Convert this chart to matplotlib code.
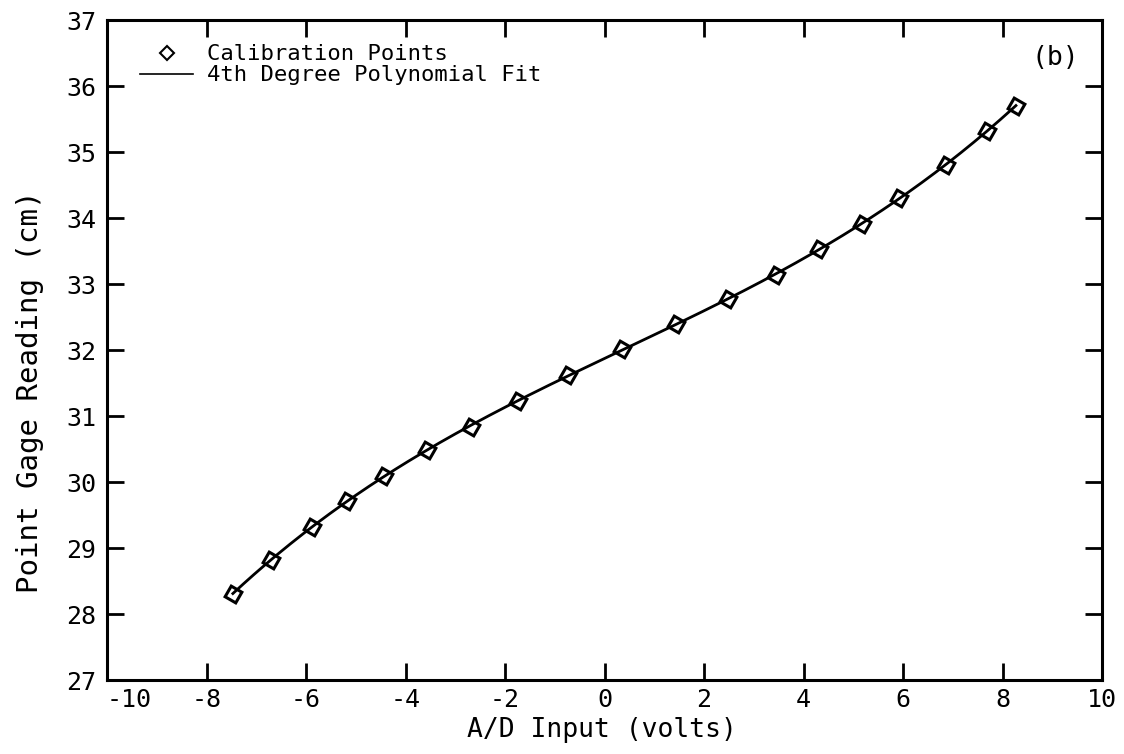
import numpy as np
import matplotlib
matplotlib.use("Agg")
import matplotlib.pyplot as plt

# Calibration data
ad_volts = [-7.47, -6.70, -5.88, -5.18, -4.43, -3.57, -2.69, -1.73, -0.74, 0.36,
            1.44, 2.48, 3.44, 4.32, 5.17, 5.92, 6.86, 7.69, 8.27]
gage_cm = [28.31, 28.82, 29.32, 29.71, 30.09, 30.48, 30.84, 31.23, 31.62, 32.01,
           32.39, 32.77, 33.14, 33.53, 33.91, 34.30, 34.81, 35.32, 35.70]

x_ticks = [-10, -8, -6, -4, -2, 0, 2, 4, 6, 8, 10]
y_ticks = [27, 28, 29, 30, 31, 32, 33, 34, 35, 36, 37]

plt.rcParams['font.family'] = ['DejaVu Sans Mono', 'DejaVu Sans']
plt.rcParams['axes.unicode_minus'] = False

fig = plt.figure(figsize=(11.24, 7.54), dpi=100)
ax = fig.add_axes([107/1124, 1 - 680/754, 995/1124, 660/754])

# 4th degree polynomial fit of the calibration points
coef = np.polyfit(ad_volts, gage_cm, 4)
xf = np.linspace(min(ad_volts), max(ad_volts), 300)
yf = np.polyval(coef, xf)

ax.plot(xf, yf, color='black', lw=2.0, zorder=2)
ax.plot(ad_volts, gage_cm, linestyle='none', marker=(4, 0, 15), markersize=12.5,
        markerfacecolor='none', markeredgecolor='black', markeredgewidth=2.2,
        zorder=3)
# legend proxies
h_pts, = ax.plot([], [], linestyle='none', marker='D', markersize=7.5,
                 markerfacecolor='none', markeredgecolor='black',
                 markeredgewidth=1.5, label='Calibration Points')
h_line, = ax.plot([], [], color='black', lw=1.2, label='4th Degree Polynomial Fit')

ax.set_xlim(-10, 10)
ax.set_ylim(27, 37)
ax.set_xticks(x_ticks)
ax.set_yticks(y_ticks)
ax.set_xticklabels([str(v) for v in x_ticks])
ax.set_yticklabels([str(v) for v in y_ticks])

ax.tick_params(axis='both', which='major', direction='in', length=12, width=2,
               top=True, right=True, labelsize=18, colors='black')
ax.tick_params(axis='x', pad=6)
ax.tick_params(axis='y', pad=8)
for s in ax.spines.values():
    s.set_linewidth(2.2)
ax.get_xticklabels()[0].set_horizontalalignment('left')

ax.set_xlabel('A/D Input (volts)', fontsize=19)
ax.set_ylabel('Point Gage Reading (cm)', fontsize=21)
ax.xaxis.label.set_va('center')
ax.yaxis.label.set_va('center')
ax.xaxis.set_label_coords(0.497, -0.076)
ax.yaxis.set_label_coords(-0.0774, 0.436)

leg = ax.legend(handles=[h_pts, h_line], loc='upper left',
                bbox_to_anchor=(0.022, 0.98), frameon=False, fontsize=16,
                handlelength=2.4, handletextpad=0.6, labelspacing=0.05,
                borderpad=0.0)

ax.text(0.953, 0.942, '(b)', transform=ax.transAxes, fontsize=19,
        ha='center', va='center')

fig.savefig('out.png', dpi=100)
